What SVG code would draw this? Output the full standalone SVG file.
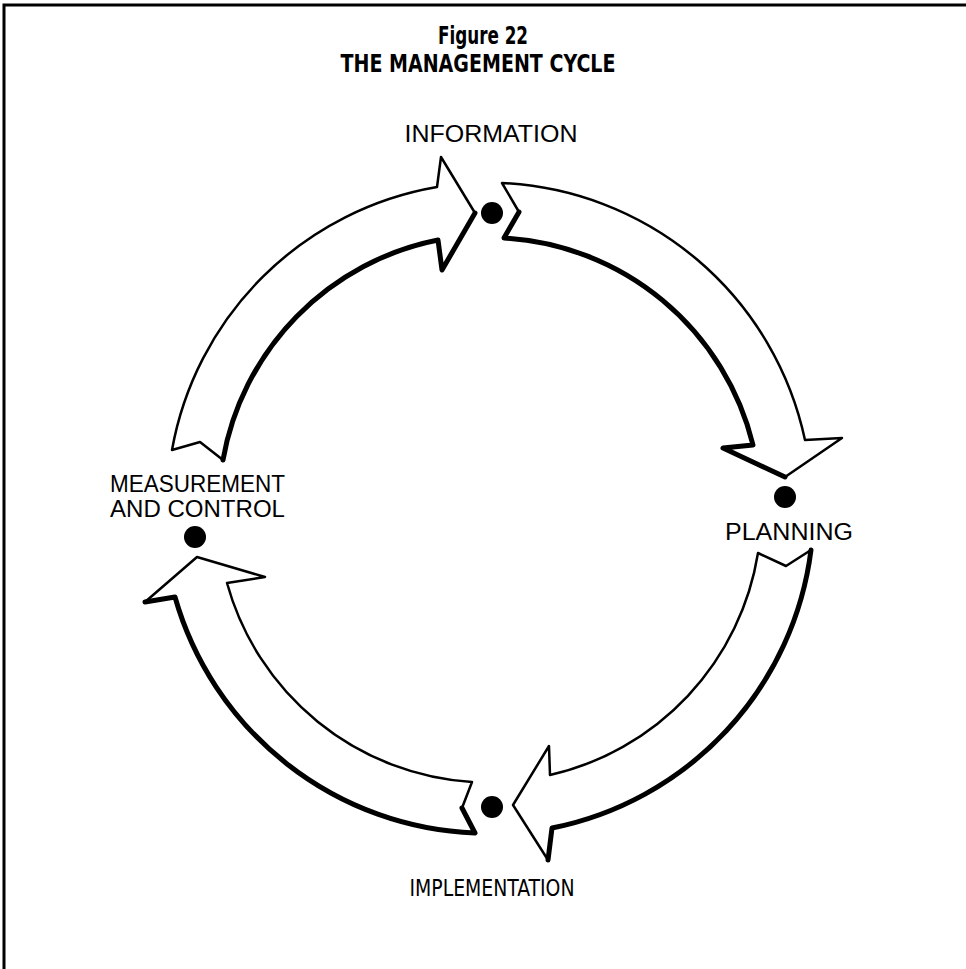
<svg xmlns="http://www.w3.org/2000/svg" width="966" height="969" viewBox="0 0 966 969">
<style>
.bg{fill:#fff}
.frame{fill:none;stroke:#000;stroke-width:3}
.title{font-family:"Liberation Sans Narrow","DejaVu Sans Condensed","Liberation Sans",sans-serif;font-weight:bold;font-size:25px;fill:#000}
.lbl{font-family:"Liberation Sans","Helvetica",sans-serif;font-size:23px;fill:#000}
.cond{font-family:"Liberation Sans Narrow","DejaVu Sans Condensed","Liberation Sans",sans-serif;font-size:23px;fill:#000}
.dot{fill:#000}
.arrow{fill:#fff;stroke:#000;stroke-width:2.5;stroke-linejoin:round}
.thick{fill:none;stroke:#000;stroke-width:5;stroke-linejoin:round;stroke-linecap:round}
</style>
<rect class="bg" x="0" y="0" width="966" height="969"/>
<path class="frame" d="M4,969 V5 H966"/>
<g id="title">
<text class="title" x="483" y="44" text-anchor="middle" textLength="90" lengthAdjust="spacingAndGlyphs">Figure 22</text>
<text class="title" x="478" y="72" text-anchor="middle" textLength="275" lengthAdjust="spacingAndGlyphs">THE MANAGEMENT CYCLE</text>
</g>
<g id="connectors">
<g id="arrow-information-planning">
<path class="arrow" d="M502,183 A325,325 0 0 1 805,440 L842,438 L785,477 L723,448 L753,445 A272,272 0 0 0 504,238 L519,212 Z"/>
<path class="thick" d="M785,477 L723,448 L753,445 A272,272 0 0 0 504,238 L519,212"/>
</g>
<g id="arrow-planning-implementation">
<path class="arrow" d="M758,553 L786,566 L811,550 A325,325 0 0 1 552,828 L548,860 L513,805 L549,746 L550,775 A272,272 0 0 0 758,553 Z"/>
<path class="thick" d="M811,550 A325,325 0 0 1 552,828 L548,860"/>
</g>
<g id="arrow-implementation-measurement">
<path class="arrow" d="M472,782 L462,808 L475,833 A325,325 0 0 1 175,597 L145,602 L197,557 L265,577 L227,583 A272,272 0 0 0 472,782 Z"/>
<path class="thick" d="M462,808 L475,833 A325,325 0 0 1 175,597 L145,602"/>
</g>
<g id="arrow-measurement-information">
<path class="arrow" d="M223,460 L200,442 L172,450 A325,325 0 0 1 437,187 L441,157 L475,213 L442,270 L438,240 A272,272 0 0 0 223,460 Z"/>
<path class="thick" d="M475,213 L442,270 L438,240 A272,272 0 0 0 223,460"/>
</g>
</g>
<g id="information">
<text class="lbl" x="491" y="142" text-anchor="middle" textLength="173" lengthAdjust="spacingAndGlyphs">INFORMATION</text>
<circle class="dot" cx="492" cy="213" r="11"/>
</g>
<g id="planning">
<text class="lbl" x="789" y="540" text-anchor="middle" textLength="128" lengthAdjust="spacingAndGlyphs">PLANNING</text>
<circle class="dot" cx="785" cy="497" r="11"/>
</g>
<g id="implementation">
<text class="cond" x="492" y="896" text-anchor="middle" textLength="165" lengthAdjust="spacingAndGlyphs">IMPLEMENTATION</text>
<circle class="dot" cx="492" cy="807" r="11"/>
</g>
<g id="measurement">
<text class="lbl" x="110" y="492" textLength="175" lengthAdjust="spacingAndGlyphs">MEASUREMENT</text>
<text class="lbl" x="110" y="517" textLength="175" lengthAdjust="spacingAndGlyphs">AND CONTROL</text>
<circle class="dot" cx="195" cy="537" r="11"/>
</g>
</svg>
